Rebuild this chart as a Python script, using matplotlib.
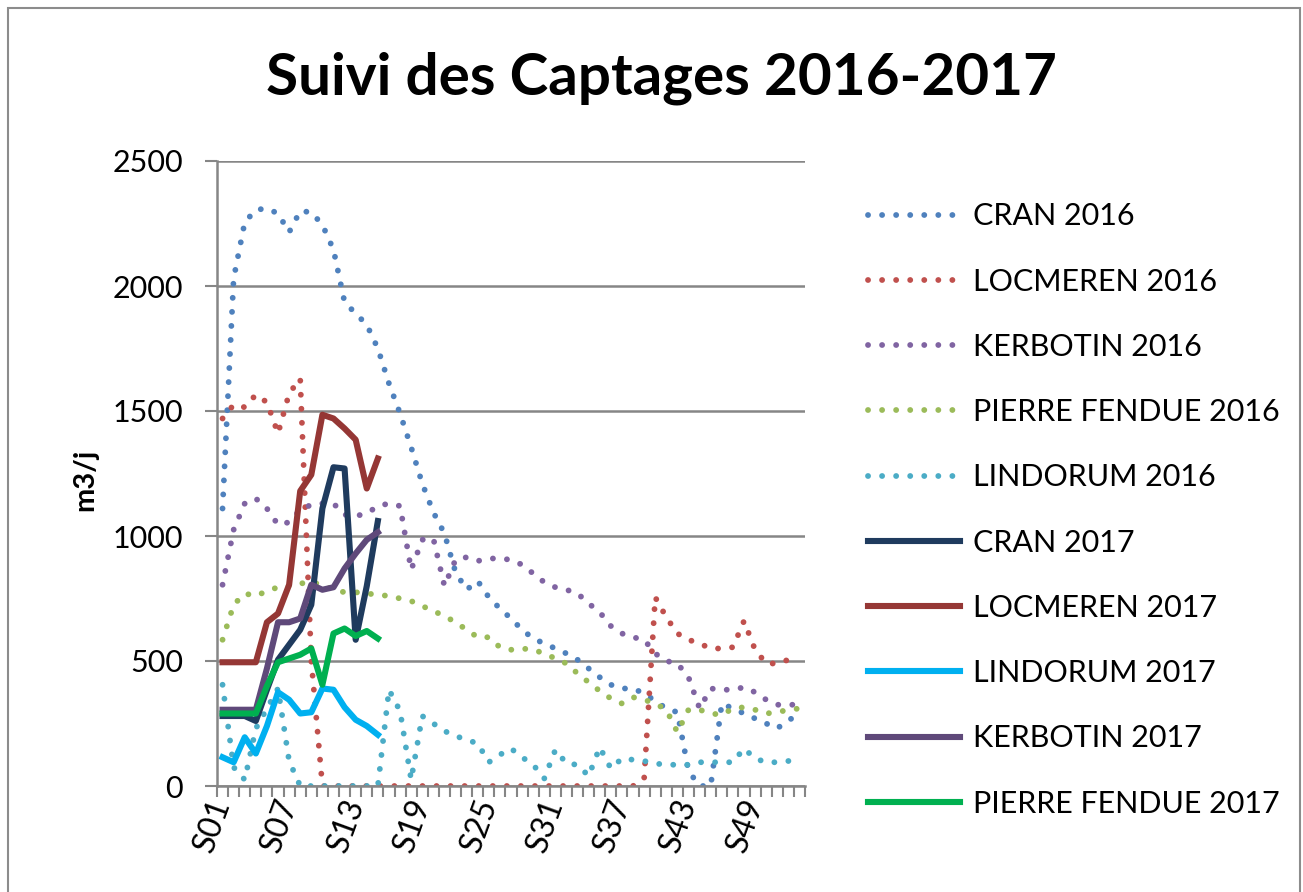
import numpy as np
import matplotlib.pyplot as plt
import matplotlib.transforms as mtransforms
from matplotlib.patches import Rectangle

plt.rcParams['font.family'] = ['Lato', 'DejaVu Sans']

weeks = ["S%02d" % i for i in range(1, 54)]

# 2016, dotted lines (m3/j per week)
cran_2016 = [1110, 2030, 2255, 2305, 2310, 2290, 2215, 2300, 2295, 2245,
             2145, 1935, 1890, 1845, 1750, 1610, 1490, 1355, 1210, 1095,
             1010, 855, 785, 820, 755, 710, 670, 625, 590, 570,
             550, 530, 505, 470, 435, 405, 390, 390, 370, 340,
             310, 295, 60, 0, 0, 330, 310, 290, 270, 250,
             230, 265, 280]
locmeren_2016 = [1470, 1525, 1515, 1565, 1535, 1410, 1570, 1630, 500, 0,
                 0, 0, 0, 0, 0, 0, 0, 0, 0, 0,
                 0, 0, 0, 0, 0, 0, 0, 0, 0, 0,
                 0, 0, 0, 0, 0, 0, 0, 0, 30, 755,
                 675, 610, 585, 570, 550, 550, 555, 660, 545, 490,
                 490, 505, 510]
kerbotin_2016 = [805, 1025, 1130, 1150, 1110, 1045, 1055, 1105, 1125, 1130,
                 1130, 1085, 1080, 1090, 1120, 1130, 1120, 865, 985, 990,
                 800, 905, 915, 900, 910, 910, 905, 885, 850, 815,
                 795, 785, 770, 730, 695, 640, 610, 595, 585, 530,
                 500, 490, 435, 310, 390, 385, 385, 395, 375, 345,
                 325, 325, 325]
pierre_2016 = [585, 725, 770, 760, 780, 795, 800, 810, 815, 805,
               785, 775, 775, 770, 765, 760, 750, 740, 720, 700,
               680, 655, 625, 595, 595, 555, 545, 550, 545, 530,
               510, 490, 450, 415, 380, 350, 330, 355, 345, 330,
               305, 215, 305, 305, 290, 285, 310, 315, 305, 290,
               295, 305, 310]
lindorum_2016 = [405, 75, 25, 230, 310, 390, 100, 0, 0, 0,
                 0, 0, 0, 0, 0, 385, 300, 25, 280, 250,
                 220, 200, 185, 170, 95, 125, 150, 115, 85, 30,
                 145, 90, 85, 40, 155, 70, 110, 105, 100, 90,
                 85, 85, 85, 95, 95, 95, 95, 150, 110, 95,
                 95, 100, 115]

# 2017, solid lines (S01 to S15)
cran_2017 = [280, 280, 280, 260, 385, 505, 565, 625, 725, 1110, 1275, 1270, 585, 800, 1060]
locmeren_2017 = [495, 495, 495, 495, 655, 690, 805, 1180, 1245, 1485, 1470, 1430, 1385, 1190, 1310]
lindorum_2017 = [115, 95, 195, 130, 240, 375, 345, 290, 295, 390, 385, 315, 265, 240, 205]
kerbotin_2017 = [305, 305, 305, 305, 470, 655, 655, 670, 805, 785, 795, 870, 930, 985, 1015]
pierre_2017 = [290, 290, 290, 290, 400, 495, 510, 525, 550, 405, 610, 630, 600, 620, 590]

fig = plt.figure(figsize=(13.03, 8.92), dpi=100)
ax = fig.add_axes([217 / 1303, 1 - 786 / 892, 588 / 1303, 625 / 892])

x16 = np.arange(len(weeks))
x17 = np.arange(len(cran_2017))

dots = (0, (0.01, 2.4))
lw_dot = 4.2
lw_line = 4.4

ax.plot(x16, cran_2016, color='#4F81BD', lw=lw_dot, ls=dots, dash_capstyle='round', label='CRAN 2016')
ax.plot(x16, locmeren_2016, color='#C0504D', lw=lw_dot, ls=dots, dash_capstyle='round', label='LOCMEREN 2016')
ax.plot(x16, kerbotin_2016, color='#8064A2', lw=lw_dot, ls=dots, dash_capstyle='round', label='KERBOTIN 2016')
ax.plot(x16, pierre_2016, color='#9BBB59', lw=lw_dot, ls=dots, dash_capstyle='round', label='PIERRE FENDUE 2016')
ax.plot(x16, lindorum_2016, color='#4BACC6', lw=lw_dot, ls=dots, dash_capstyle='round', label='LINDORUM 2016')

ax.plot(x17, cran_2017, color='#1F3B5E', lw=lw_line, solid_joinstyle='round', label='CRAN 2017')
ax.plot(x17, locmeren_2017, color='#953735', lw=lw_line, solid_joinstyle='round', label='LOCMEREN 2017')
ax.plot(x17, lindorum_2017, color='#00B0F0', lw=lw_line, solid_joinstyle='round', label='LINDORUM 2017')
ax.plot(x17, kerbotin_2017, color='#5F497A', lw=lw_line, solid_joinstyle='round', label='KERBOTIN 2017')
ax.plot(x17, pierre_2017, color='#00B050', lw=lw_line, solid_joinstyle='round', label='PIERRE FENDUE 2017')

ax.set_xlim(-0.5, len(weeks) - 0.5)
ax.set_ylim(0, 2500)
ax.set_yticks(range(0, 2501, 500))
ax.set_xticks(x16[::6])
ax.set_xticklabels(weeks[::6], rotation=70, ha='right', va='center', rotation_mode='anchor')
ax.set_xticks(np.arange(-0.5, len(weeks), 1), minor=True)

# nudge the rotated week labels a little to the right
shift = mtransforms.ScaledTranslation(9 / 100, 0, fig.dpi_scale_trans)
for lab in ax.get_xticklabels():
    lab.set_transform(lab.get_transform() + shift)

grey = '#868686'
ax.tick_params(axis='x', which='major', length=0, pad=10, labelsize=23)
ax.tick_params(axis='x', which='minor', length=8, width=1.5, color=grey)
ax.tick_params(axis='y', length=8.5, width=1.5, color=grey, labelsize=22, pad=16)
ax.grid(axis='y', color=grey, lw=1.8)
ax.set_axisbelow(True)
for s in ['top', 'right']:
    ax.spines[s].set_visible(False)
for s in ['left', 'bottom']:
    ax.spines[s].set_color(grey)
    ax.spines[s].set_linewidth(1.8)

fig.text(661 / 1303, 1 - 78 / 892, 'Suivi des Captages 2016-2017', ha='center', va='center',
         fontsize=42, fontweight='bold')
fig.text(85 / 1303, 1 - 480 / 892, 'm3/j', rotation=90, ha='center', va='center',
         fontsize=21, fontweight='bold')

fig.legend(loc='center left', bbox_to_anchor=(856 / 1303, 1 - 510 / 892), frameon=False,
           borderaxespad=0, fontsize=22, handlelength=3.0, handletextpad=0.42, labelspacing=1.22)

fig.patches.append(Rectangle((8 / 1303, -0.01), 1292 / 1303, 1 - 8 / 892 + 0.01,
                             transform=fig.transFigure, fill=False, edgecolor='#8c8c8c', lw=1.5))

fig.savefig('out.png', dpi=100)
